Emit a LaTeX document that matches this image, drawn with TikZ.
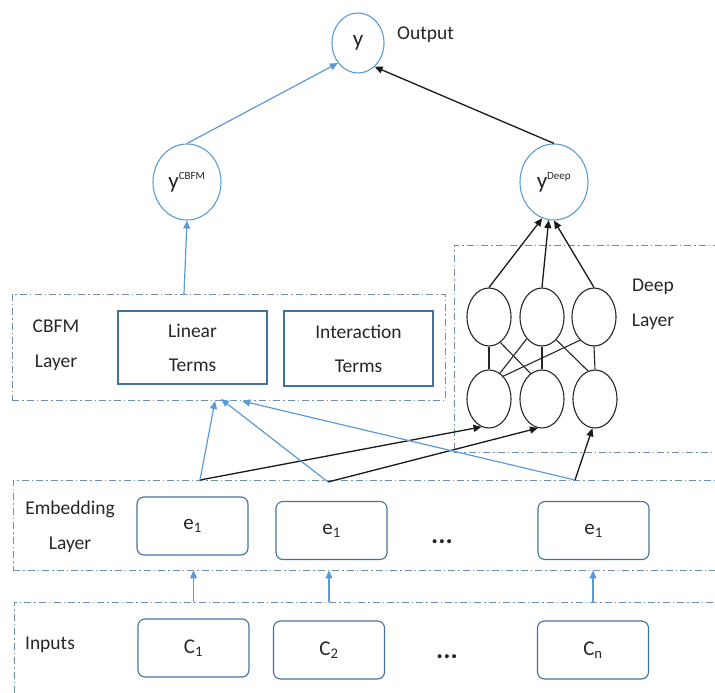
\documentclass[tikz,border=0pt]{standalone}
\usepackage{fontspec}
\setmainfont{Carlito}
\usetikzlibrary{shapes.geometric,arrows.meta}
\definecolor{lblue}{HTML}{5B9BD5}
\definecolor{bbox}{HTML}{41719C}
\definecolor{dashc}{HTML}{6E8FB0}
\definecolor{txt}{HTML}{262626}
\begin{document}
\begin{tikzpicture}[x=1pt,y=-1pt,
  layer/.style={draw=dashc, line width=0.9pt, dash pattern=on 7pt off 3pt on 1.5pt off 3pt, rectangle, inner sep=0pt},
  term/.style={draw=bbox, line width=1.1pt, rectangle, minimum width=149pt, minimum height=73pt, inner sep=0pt, align=center, font=\fontsize{19.5}{34}\selectfont, text=txt},
  rbox/.style={draw=bbox, line width=1.1pt, rectangle, rounded corners=7pt, minimum width=111pt, minimum height=58pt, inner sep=0pt, font=\fontsize{21}{24}\selectfont, text=txt},
  lbl/.style={align=center, font=\fontsize{19.5}{35}\selectfont, text=txt, inner sep=0pt},
  bcirc/.style={draw=lblue, line width=1.1pt, ellipse, inner sep=0pt, text=txt},
  ncirc/.style={draw=black!85, line width=1.1pt, ellipse, minimum width=44pt, minimum height=58pt, inner sep=0pt},
  barrow/.style={draw=lblue, line width=1.2pt, -{Triangle[length=8pt,width=7pt]}},
  karrow/.style={draw=black!90, line width=1.3pt, -{Triangle[length=8pt,width=7pt]}},
  kline/.style={draw=black!85, line width=1.1pt},
  dots/.style={font=\fontsize{27}{28}\selectfont\bfseries, text=txt, inner sep=0pt}
]
\useasboundingbox (0,0) rectangle (715,693);

% layer boxes
\node[layer, minimum width=433pt, minimum height=106pt] (cbfm) at (228.5,347) {};
\node[layer, minimum width=276pt, minimum height=207pt] (deep) at (592,348.5) {};
\node[layer, minimum width=717pt, minimum height=90pt] (emb) at (371.5,525) {};
\node[layer, minimum width=716pt, minimum height=108pt] (inp) at (372,656) {};

% output circles
\node[bcirc, minimum width=52pt, minimum height=60pt, font=\fontsize{23}{24}\selectfont] (ytop) at (358,43) {y};
\node[lbl, anchor=west] (out) at (397,35) {Output};
\node[bcirc, minimum width=68pt, minimum height=76pt, font=\fontsize{23}{24}\selectfont] (ycbfm) at (187,182) {y\textsuperscript{\fontsize{11}{12}\selectfont CBFM}};
\node[bcirc, minimum width=68pt, minimum height=76pt, font=\fontsize{23}{24}\selectfont] (ydeep) at (554,182) {y\textsuperscript{\fontsize{11}{12}\selectfont Deep}};

% CBFM layer
\node[lbl] (cbfmlbl) at (56,345) {CBFM\\Layer};
\node[term] (lin) at (192.5,347.5) {Linear\\Terms};
\node[term, minimum height=75pt] (inter) at (358.5,348.5) {Interaction\\Terms};

% deep layer
\node[lbl] (deeplbl) at (653,304) {Deep\\Layer};
\node[ncirc] (t1) at (489,317) {};
\node[ncirc] (t2) at (542,317) {};
\node[ncirc] (t3) at (594,317) {};
\node[ncirc] (b1) at (489,399) {};
\node[ncirc] (b2) at (542,399) {};
\node[ncirc] (b3) at (595,399) {};

% embedding layer
\node[lbl] (emblbl) at (70,527) {Embedding\\Layer};
\node[rbox] (e1) at (192.5,526) {e\textsubscript{1}};
\node[rbox] (e2) at (331.5,530.5) {e\textsubscript{1}};
\node[rbox] (e3) at (593.5,530.5) {e\textsubscript{1}};
\node[dots] (edots) at (442,542) {...};

% inputs
\node[lbl] (inplbl) at (50,645) {Inputs};
\node[rbox] (c1) at (193.5,648) {C\textsubscript{1}};
\node[rbox] (c2) at (329,650) {C\textsubscript{2}};
\node[rbox] (cn) at (593,650) {C\textsubscript{n}};
\node[dots] (cdots) at (447,657) {...};

% coordinates
\coordinate (cbtop) at (184,294);
\coordinate (E1) at (200,480);
\coordinate (E2) at (328,482);
\coordinate (E3) at (575,480);
\coordinate (L1) at (215,401);
\coordinate (L2) at (221,399);
\coordinate (L3) at (242,401);

% top connections
\draw[barrow] (ycbfm.north) -- (ytop.225);
\draw[karrow] (ydeep.north) -- (ytop.305);
\draw[barrow] (cbtop) -- (ycbfm.south);

% deep net
\draw[karrow] (t1.north) -- (ydeep.252);
\draw[karrow] (t2.north) -- (ydeep.262);
\draw[karrow] (t3.north) -- (ydeep.270);
\draw[kline] (t1.south) -- (b1.north);
\draw[kline] (t2.south) -- (b2.north);
\draw[kline] (t3.south) -- (b3.north);
\draw[kline] (t1.294) -- (b2.114);
\draw[kline] (t2.235) -- (b1.67);
\draw[kline] (t3.239) -- (b1.58);
\draw[kline] (t2.302) -- (b3.104);

% embedding to deep / cbfm
\draw[karrow] (E1) -- (b1.255);
\draw[karrow] (E2) -- (b2.262);
\draw[karrow] (E3) -- (b3.265);
\draw[barrow] (E1) -- (L1);
\draw[barrow] (E2) -- (L2);
\draw[barrow] (E3) -- (L3);

% inputs to embedding
\draw[barrow] (c1 |- inp.north) -- (c1 |- emb.south);
\draw[barrow] (c2 |- inp.north) -- (c2 |- emb.south);
\draw[barrow] (cn |- inp.north) -- (cn |- emb.south);
\end{tikzpicture}
\end{document}
